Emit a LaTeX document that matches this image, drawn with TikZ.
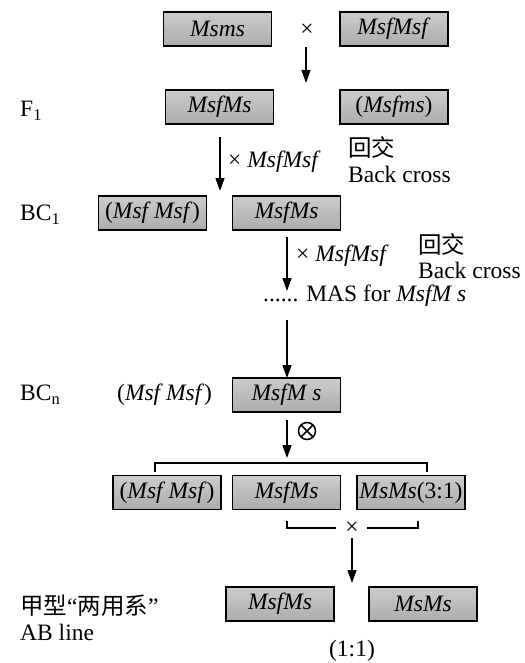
\documentclass[tikz,border=0pt]{standalone}
\usepackage{fontspec}
\setmainfont{Liberation Serif}
\newfontfamily\cjk{Noto Sans CJK SC}
\usetikzlibrary{arrows.meta}
\begin{document}
\begin{tikzpicture}[x=1pt,y=-1pt,
  font=\fontsize{23.5}{24}\selectfont,
  gbox/.style={draw=black,line width=1.6pt,minimum width=108pt,minimum height=34pt,
    inner sep=0pt,top color=gray!40,middle color=white,bottom color=gray!65},
  lab/.style={anchor=west,inner sep=0pt},
  plain/.style={inner sep=0pt},
  otimesmark/.style={circle,draw,line width=1.5pt,minimum size=17pt,inner sep=0pt,
    path picture={\draw[line width=1.5pt]
      (path picture bounding box.north west) -- (path picture bounding box.south east)
      (path picture bounding box.north east) -- (path picture bounding box.south west);}},
  arr/.style={line width=1.3pt,-{Triangle[length=13pt,width=9pt]}},
  brk/.style={line width=1.3pt}]
\useasboundingbox (0,0) rectangle (524,663);
% row 0
\node[gbox] (p1) at (217.5,29) {\textit{Msms}};
\node[gbox] (p2) at (394,29) {\textit{MsfMsf}};
\node[plain] (x0) at (307,30) {×};
\coordinate (a1s) at (306,47);
\coordinate (a1e) at (306,83);
\draw[arr] (a1s) -- (a1e);
% row F1
\node[gbox] (f1a) at (219.5,107) {\textit{MsfMs}};
\node[gbox] (f1b) at (394,107) {(\textit{Msfms})};
\node[lab] (lf1) at (20,111) {F\textsubscript{1}};
\coordinate (a2s) at (220,137);
\coordinate (a2e) at (220,191);
\draw[arr] (a2s) -- (a2e);
\node[lab] (t2) at (228,162) {× \textit{MsfMsf}};
\node[lab] (h2) at (348,147) {\cjk 回交};
\node[lab] (b2) at (348,174) {Back cross};
% row BC1
\node[gbox] (c1a) at (152.5,213) {(\textit{Msf Msf})};
\node[gbox] (c1b) at (286.5,213) {\textit{MsfMs}};
\node[lab] (lc1) at (20,215) {BC\textsubscript{1}};
\coordinate (a3s) at (287,237);
\coordinate (a3e) at (287,291);
\draw[arr] (a3s) -- (a3e);
\node[lab] (t3) at (296,256) {× \textit{MsfMsf}};
\node[lab] (h3) at (418,244) {\cjk 回交};
\node[lab] (b3) at (418,270) {Back cross};
\node[lab] (mas) at (263,296) {...... MAS for \textit{MsfM s}};
% row BCn
\coordinate (a4s) at (287,320);
\coordinate (a4e) at (287,378);
\draw[arr] (a4s) -- (a4e);
\node[gbox] (cn) at (286.5,395) {\textit{MsfM s}};
\node[lab] (cnl) at (117,395) {(\textit{Msf Msf})};
\node[lab] (lcn) at (20,395) {BC\textsubscript{n}};
\coordinate (a5s) at (287,420);
\coordinate (a5e) at (287,458);
\draw[arr] (a5s) -- (a5e);
\node[otimesmark] (ot) at (307,431) {};
\coordinate (bl) at (155,472);
\coordinate (br) at (427,472);
\draw[brk] (bl) -- (155,463) -- (427,463) -- (br);
% row 4
\node[gbox] (r4a) at (167,492.5) {(\textit{Msf Msf})};
\node[gbox] (r4b) at (286.5,492.5) {\textit{MsfMs}};
\node[gbox] (r4c) at (411,492.5) {\textit{MsMs}(3:1)};
\node[plain] (x4) at (352,528) {×};
\coordinate (lbl) at (287,521);
\coordinate (lbr) at (418,521);
\draw[brk] (lbl) -- (287,528) -- (336,528);
\draw[brk] (367,528) -- (418,528) -- (lbr);
\coordinate (a6s) at (352,538);
\coordinate (a6e) at (352,583);
\draw[arr] (a6s) -- (a6e);
% row 5
\node[gbox] (r5a) at (280,604) {\textit{MsfMs}};
\node[gbox] (r5b) at (423,604) {\textit{MsMs}};
\node[plain] (ratio) at (352,651) {(1:1)};
\node[lab] (jx) at (20,606) {{\cjk 甲型}“{\cjk 两用系}”};
\node[lab] (ab) at (20,632) {AB line};
\end{tikzpicture}
\end{document}
